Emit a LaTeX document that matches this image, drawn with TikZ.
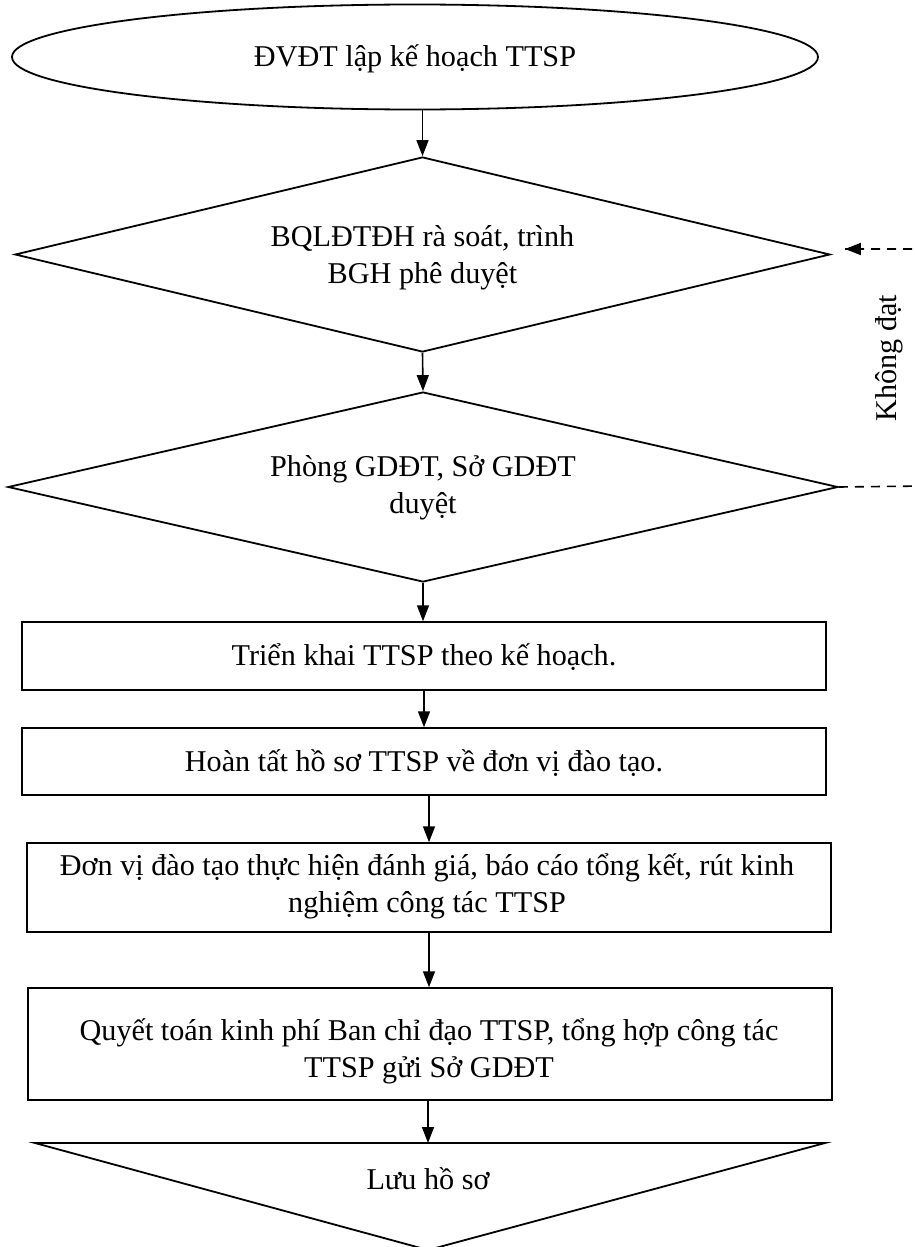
\documentclass[tikz,border=0pt]{standalone}
\usepackage{fontspec}
\setmainfont{Liberation Serif}
\usetikzlibrary{shapes.geometric,arrows.meta}
\begin{document}
\begin{tikzpicture}[x=1pt,y=-1pt,
  font=\fontsize{30.2}{37}\selectfont,
  shp/.style={draw,line width=1.8pt},
  boxst/.style={draw,line width=1.5pt,rectangle,inner sep=0pt},
  txt/.style={align=center,inner sep=0pt},
  arr/.style={line width=1.6pt,-{Triangle[length=16pt,width=12pt]}},
  dsh/.style={line width=1.6pt,dash pattern=on 9pt off 7pt}]
\clip (0,0) rectangle (915,1247);
\fill[white] (0,0) rectangle (915,1247);
% start ellipse
\node[shp,ellipse,minimum width=806pt,minimum height=105pt,inner sep=0pt] (e) at (415,57) {};
\node[txt] (te) at (415,59) {ĐVĐT lập kế hoạch TTSP};
% diamonds
\node[shp,diamond,aspect=4.18,minimum width=815pt,minimum height=195pt,inner sep=0pt] (d1) at (422.5,254.5) {};
\node[txt] (td1) at (422.5,258) {BQLĐTĐH rà soát, trình\\BGH phê duyệt};
\node[shp,diamond,aspect=4.37,minimum width=830pt,minimum height=190pt,inner sep=0pt] (d2) at (423,487) {};
\node[txt] (td2) at (423,487.5) {Phòng GDĐT, Sở GDĐT\\duyệt};
% boxes
\node[boxst,minimum width=804pt,minimum height=68pt] (b1) at (424,656) {};
\node[txt] (t1) at (424,657) {Triển khai TTSP theo kế hoạch.};
\node[boxst,minimum width=804pt,minimum height=67pt] (b2) at (424,761.5) {};
\node[txt] (t2) at (424,763) {Hoàn tất hồ sơ TTSP về đơn vị đào tạo.};
\node[boxst,minimum width=804pt,minimum height=89pt] (b3) at (429,887.5) {};
\node[txt] (t3) at (427,886) {Đơn vị đào tạo thực hiện đánh giá, báo cáo tổng kết, rút kinh\\nghiệm công tác TTSP};
\node[boxst,minimum width=804pt,minimum height=112pt] (b4) at (430,1044) {};
\node[txt] (t4) at (429,1051) {Quyết toán kinh phí Ban chỉ đạo TTSP, tổng hợp công tác\\TTSP gửi Sở GDĐT};
% end triangle
\coordinate (ta) at (35,1143);
\coordinate (tb) at (825,1143);
\coordinate (tc) at (428,1250);
\draw[shp,line join=miter] (ta) -- (tb) -- (tc) -- cycle;
\node[txt] (t5) at (428,1179) {Lưu hồ sơ};
% connectors
\draw[arr] (e.south -| d1.north) -- (d1.north);
\draw[arr] (d1.south) -- (d2.north);
\draw[arr] (d2.south) -- (d2.south |- b1.north);
\draw[arr] (b1.south) -- (b2.north);
\draw[arr] (b2.south -| b3.north) -- (b3.north);
\draw[arr] (b3.south) -- (b3.south |- b4.north);
\draw[arr] (b4.south -| tc) -- (ta -| tc);
% feedback
\coordinate (fb) at (925,486);
\coordinate (ft) at (925,249);
\draw[dsh] (d2.east) -- (fb) -- (ft) -- ++(-80,0) coordinate (fe);
\draw[line width=1.6pt,-{Triangle[length=16pt,width=12pt]}] (fe) -- ++(-0.1,0);
\node[txt,rotate=90] (lbl) at (889,358) {Không đạt};
\end{tikzpicture}
\end{document}
